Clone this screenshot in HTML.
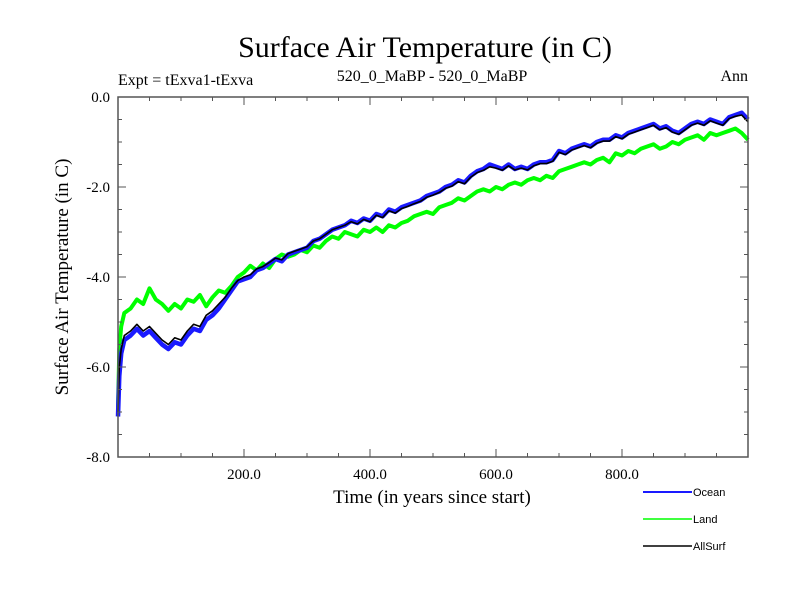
<!DOCTYPE html>
<html><head><meta charset="utf-8"><style>
html,body{margin:0;padding:0;background:#fff}
svg{display:block}
text{font-family:"Liberation Serif",serif;fill:#000}
</style></head><body>
<svg id="chart" width="800" height="600">
<text x="425" y="57" font-size="30" text-anchor="middle">Surface Air Temperature (in C)</text>
<text x="118" y="85" font-size="16">Expt = tExva1-tExva</text>
<text x="432" y="81" font-size="16" text-anchor="middle">520_0_MaBP - 520_0_MaBP</text>
<text x="748" y="81" font-size="16" text-anchor="end">Ann</text>
<text transform="translate(68,277) rotate(-90)" font-size="19" text-anchor="middle">Surface Air Temperature (in C)</text>
<text x="432" y="503" font-size="19" text-anchor="middle">Time (in years since start)</text>
<g id="series"></g>
<g id="axes"></g>
<g id="legend"></g>
</svg>
<script>
const years=[0,2,5,10,20,30,40,50,60,70,80,90,100,110,120,130,140,150,160,170,180,190,200,210,220,230,240,250,260,270,280,290,300,310,320,330,340,350,360,370,380,390,400,410,420,430,440,450,460,470,480,490,500,510,520,530,540,550,560,570,580,590,600,610,620,630,640,650,660,670,680,690,700,710,720,730,740,750,760,770,780,790,800,810,820,830,840,850,860,870,880,890,900,910,920,930,940,950,960,970,980,990,1000];
const ocean=[-7.1,-6.2,-5.7,-5.4,-5.3,-5.15,-5.3,-5.2,-5.35,-5.5,-5.6,-5.45,-5.5,-5.3,-5.15,-5.2,-4.95,-4.85,-4.7,-4.5,-4.3,-4.1,-4.05,-4.0,-3.85,-3.8,-3.7,-3.6,-3.65,-3.5,-3.45,-3.4,-3.35,-3.2,-3.15,-3.05,-2.95,-2.9,-2.85,-2.75,-2.8,-2.7,-2.75,-2.6,-2.65,-2.5,-2.55,-2.45,-2.4,-2.35,-2.3,-2.2,-2.15,-2.1,-2.0,-1.95,-1.85,-1.9,-1.75,-1.65,-1.6,-1.5,-1.55,-1.6,-1.5,-1.6,-1.55,-1.6,-1.5,-1.45,-1.45,-1.4,-1.2,-1.25,-1.15,-1.1,-1.05,-1.1,-1.0,-0.95,-0.95,-0.85,-0.9,-0.8,-0.75,-0.7,-0.65,-0.6,-0.7,-0.65,-0.75,-0.8,-0.7,-0.6,-0.55,-0.6,-0.5,-0.55,-0.6,-0.45,-0.4,-0.35,-0.5];
const land=[-6.9,-5.6,-5.1,-4.8,-4.7,-4.5,-4.6,-4.25,-4.5,-4.6,-4.75,-4.6,-4.7,-4.5,-4.55,-4.4,-4.65,-4.45,-4.3,-4.35,-4.2,-4.0,-3.9,-3.75,-3.85,-3.7,-3.8,-3.6,-3.5,-3.55,-3.5,-3.4,-3.45,-3.3,-3.35,-3.2,-3.1,-3.15,-3.0,-3.05,-3.1,-2.95,-3.0,-2.9,-3.0,-2.85,-2.9,-2.8,-2.75,-2.65,-2.6,-2.55,-2.6,-2.45,-2.4,-2.35,-2.25,-2.3,-2.2,-2.1,-2.05,-2.1,-2.0,-2.05,-1.95,-1.9,-1.95,-1.85,-1.8,-1.85,-1.75,-1.8,-1.65,-1.6,-1.55,-1.5,-1.45,-1.5,-1.4,-1.35,-1.45,-1.25,-1.3,-1.2,-1.25,-1.15,-1.1,-1.05,-1.15,-1.1,-1.0,-1.05,-0.95,-0.9,-0.85,-0.95,-0.8,-0.85,-0.8,-0.75,-0.7,-0.8,-0.95];
const allsurf=[-7.0,-6.0,-5.6,-5.3,-5.2,-5.05,-5.2,-5.1,-5.25,-5.4,-5.5,-5.35,-5.4,-5.2,-5.05,-5.1,-4.85,-4.75,-4.6,-4.45,-4.25,-4.08,-4.0,-3.95,-3.82,-3.77,-3.68,-3.58,-3.62,-3.48,-3.43,-3.38,-3.33,-3.2,-3.15,-3.05,-2.95,-2.9,-2.85,-2.77,-2.82,-2.72,-2.77,-2.63,-2.68,-2.53,-2.58,-2.48,-2.43,-2.37,-2.32,-2.23,-2.18,-2.12,-2.03,-1.98,-1.88,-1.93,-1.78,-1.68,-1.63,-1.55,-1.58,-1.63,-1.53,-1.62,-1.58,-1.62,-1.53,-1.48,-1.48,-1.43,-1.23,-1.28,-1.18,-1.13,-1.08,-1.13,-1.03,-0.98,-0.98,-0.88,-0.93,-0.83,-0.78,-0.73,-0.68,-0.63,-0.73,-0.68,-0.78,-0.83,-0.73,-0.63,-0.58,-0.63,-0.53,-0.58,-0.63,-0.48,-0.43,-0.4,-0.55];
const xTicks=[200,400,600,800];
const xTickLabels=["200.0","400.0","600.0","800.0"];
const yTicks=[0,-2,-4,-6,-8];
const yTickLabels=["0.0","-2.0","-4.0","-6.0","-8.0"];
const seriesNames=["Ocean","Land","AllSurf"];
const seriesColors=["#1a1aff","#00ff00","#000000"];

const L=118,R=748,T=97,B=457,ns="http://www.w3.org/2000/svg";
const xs=v=>L+(v-0)/1000*(R-L);
const ys=v=>T+(0-v)/8*(B-T);
function mk(tag,attrs,parent){const e=document.createElementNS(ns,tag);for(const k in attrs)e.setAttribute(k,attrs[k]);parent.appendChild(e);return e;}
const sg=document.getElementById('series');
const allData=[ocean,land,allsurf];
const widths=[4.5,4,1.6];
const order=[1,0,2];
order.forEach(i=>{
  const d=years.map((y,j)=>(j?'L':'M')+xs(y).toFixed(1)+','+ys(allData[i][j]).toFixed(1)).join('');
  const p=mk('path',{d:d,fill:'none',stroke:seriesColors[i],'stroke-width':widths[i],'stroke-linejoin':'round'},sg);
  
  
});
const ax=document.getElementById('axes');
const frame=mk('rect',{x:L,y:T,width:R-L,height:B-T,fill:'none',stroke:'#555','stroke-width':1.5},ax);


for(let v=50;v<1000;v+=50){
  const major=v%200===0, len=major?8:4;
  mk('line',{x1:xs(v),x2:xs(v),y1:B,y2:B-len,stroke:'#555'},ax);
  mk('line',{x1:xs(v),x2:xs(v),y1:T,y2:T+len,stroke:'#555'},ax);
}
for(let v=-7.5;v<0;v+=0.5){
  const major=Math.abs(v%2)<1e-9, len=major?8:4;
  mk('line',{x1:L,x2:L+len,y1:ys(v),y2:ys(v),stroke:'#555'},ax);
  mk('line',{x1:R,x2:R-len,y1:ys(v),y2:ys(v),stroke:'#555'},ax);
}
xTicks.forEach((v,i)=>{
  const t=mk('text',{x:xs(v),y:B+22,'font-size':15,'text-anchor':'middle'},ax);
  t.textContent=xTickLabels[i];
  
  
});
yTicks.forEach((v,i)=>{
  const t=mk('text',{x:L-8,y:ys(v)+5,'font-size':15,'text-anchor':'end'},ax);
  t.textContent=yTickLabels[i];
  
  
});
const lg=document.getElementById('legend');
const legY=[492,519,546];
seriesNames.forEach((n,i)=>{
  const g=mk('g',{},lg);
  
  
  mk('line',{x1:643,x2:692,y1:legY[i],y2:legY[i],stroke:seriesColors[i],'stroke-width':i===0?2:1.5},g);
  const t=mk('text',{x:693,y:legY[i]+4,'font-size':11,style:'font-family:"Liberation Sans",sans-serif'},g);
  t.textContent=n;
});
</script>
</body></html>
